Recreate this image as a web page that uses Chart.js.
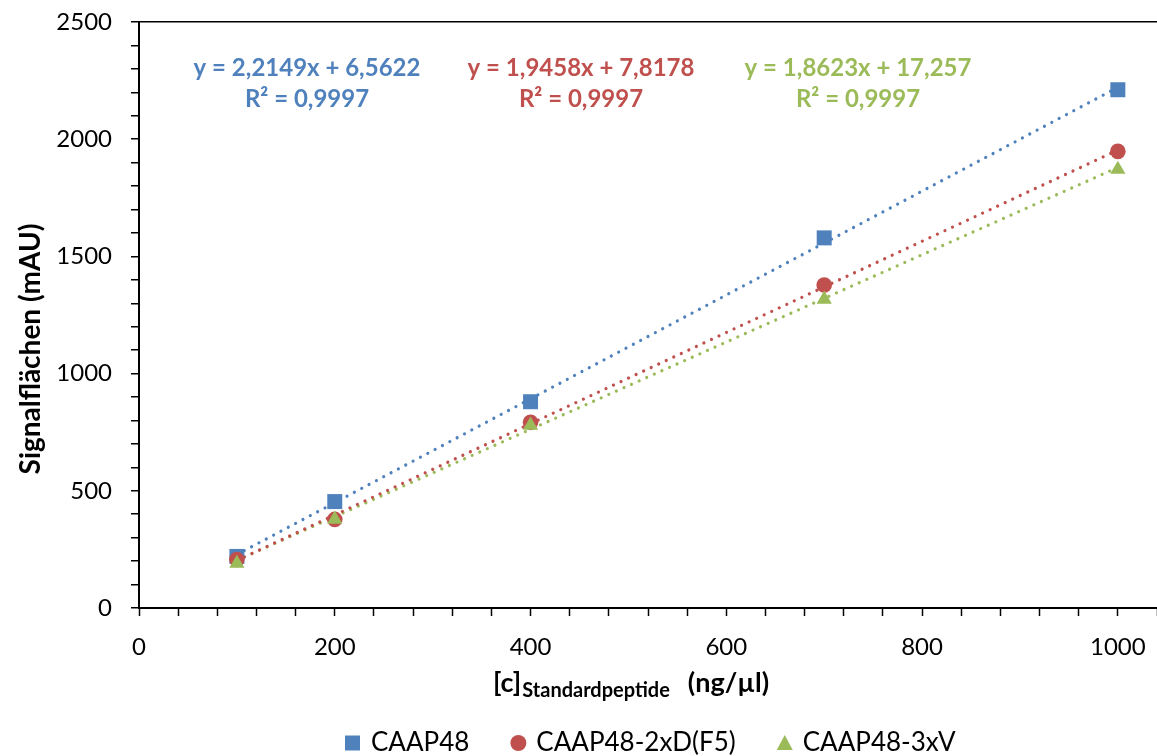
<!DOCTYPE html>
<html lang="de">
<head>
<meta charset="utf-8">
<title>Kalibriergeraden CAAP48</title>
<script src="https://cdn.jsdelivr.net/npm/chart.js@4.4.1/dist/chart.umd.min.js"></script>
<style>
  html, body { margin: 0; padding: 0; background: #fff; overflow: hidden; }
  canvas { display: block; }
</style>
</head>
<body>
<canvas id="kalibrierung" width="1157" height="756"></canvas>
<script>
// Konzentrationen der Standards (ng/µl)
const konzentrationen = [100, 200, 400, 700, 1000];

// gemessene Signalflächen (mAU)
const flaechenCAAP48 = [220, 454, 880, 1579, 2211];
const flaechen2xD = [207, 378, 792, 1378, 1948];
const flaechen3xV = [190, 378, 779, 1317, 1871];

const peptide = ['CAAP48', 'CAAP48-2xD(F5)', 'CAAP48-3xV'];
const farben = ['#4F81BD', '#C0504D', '#9BBB59'];
const symbole = ['rect', 'circle', 'triangle'];
const radien = [10.6, 7.8, 8.8];

// Trendlinien aus Excel (linear)
const steigungen = [2.2149, 1.9458, 1.8623];
const achsenabschnitte = [6.5622, 7.8178, 17.257];
const bestimmtheit = [0.9997, 0.9997, 0.9997];

const xBeschriftet = [0, 200, 400, 600, 800, 1000];
const yBeschriftet = [0, 500, 1000, 1500, 2000, 2500];

const schrift = 'Lato, "Open Sans", sans-serif';
const dezimal = v => String(v).replace('.', ',');

const messreihen = [flaechenCAAP48, flaechen2xD, flaechen3xV];

const punkte = messreihen.map((werte, i) => ({
  label: peptide[i],
  data: konzentrationen.map((c, j) => ({ x: c, y: werte[j] })),
  pointStyle: symbole[i],
  pointRadius: radien[i],
  pointHoverRadius: radien[i],
  pointBorderWidth: 0,
  backgroundColor: farben[i],
  borderColor: farben[i],
  order: 3 - i
}));

const trendlinien = steigungen.map((m, i) => {
  const xs = [konzentrationen[0], konzentrationen[konzentrationen.length - 1]];
  return {
    label: 'Linear (' + peptide[i] + ')',
    data: xs.map(x => ({ x: x, y: m * x + achsenabschnitte[i] })),
    showLine: true,
    pointRadius: 0,
    borderColor: farben[i],
    borderWidth: 3.2,
    borderDash: [0.01, 8.3],
    borderCapStyle: 'round',
    order: 10 + i
  };
});

// Achsentitel, Gleichungen und Legende
const beschriftung = {
  id: 'beschriftung',
  afterDraw(chart) {
    const ctx = chart.ctx;
    ctx.save();

    ctx.textAlign = 'center';
    ctx.textBaseline = 'alphabetic';
    ctx.font = 'bold 24px ' + schrift;
    const gleichungX = [307, 581, 858];
    steigungen.forEach((m, i) => {
      ctx.fillStyle = farben[i];
      ctx.fillText('y = ' + dezimal(m) + 'x + ' + dezimal(achsenabschnitte[i]), gleichungX[i], 76);
      ctx.fillText('R² = ' + dezimal(bestimmtheit[i]), gleichungX[i], 107);
    });

    // y-Achsentitel
    ctx.fillStyle = '#000';
    ctx.save();
    ctx.translate(31, 349);
    ctx.rotate(-Math.PI / 2);
    ctx.textBaseline = 'middle';
    ctx.font = 'bold 28px ' + schrift;
    ctx.fillText('Signalflächen (mAU)', 0, 0);
    ctx.restore();

    // x-Achsentitel mit tiefgestelltem Index
    ctx.textAlign = 'left';
    let x = 493;
    ctx.font = 'bold 27px ' + schrift;
    ctx.fillText('[c]', x, 692);
    x += ctx.measureText('[c]').width + 1;
    ctx.font = 'bold 20px ' + schrift;
    ctx.fillText('Standardpeptide', x, 697);
    x += ctx.measureText('Standardpeptide').width + 18;
    ctx.font = 'bold 27px ' + schrift;
    ctx.fillText('(ng/µl)', x, 692);

    // Legende
    ctx.font = '26px ' + schrift;
    ctx.textBaseline = 'middle';
    let lx = 345;
    const ly = 743;
    peptide.forEach((name, i) => {
      ctx.fillStyle = farben[i];
      ctx.beginPath();
      if (symbole[i] === 'rect') {
        ctx.rect(lx, ly - 7.5, 15, 15);
      } else if (symbole[i] === 'circle') {
        ctx.arc(lx + 8, ly, 8, 0, Math.PI * 2);
      } else {
        ctx.moveTo(lx + 8, ly - 8);
        ctx.lineTo(lx + 16, ly + 7);
        ctx.lineTo(lx, ly + 7);
        ctx.closePath();
      }
      ctx.fill();
      ctx.fillStyle = '#000';
      ctx.fillText(name, lx + 26, ly);
      lx += 26 + ctx.measureText(name).width + 41;
    });

    ctx.restore();
  }
};

new Chart(document.getElementById('kalibrierung'), {
  type: 'scatter',
  data: { datasets: punkte.concat(trendlinien) },
  options: {
    responsive: false,
    animation: false,
    layout: {
      autoPadding: false,
      padding: { top: 22, right: 0, bottom: 0, left: 0 }
    },
    plugins: {
      legend: { display: false },
      tooltip: { enabled: false }
    },
    scales: {
      x: {
        type: 'linear',
        min: 0,
        max: 1040,
        afterFit: s => {
          s.height = 148;
          s.paddingLeft = 0;
          s.paddingRight = 0;
        },
        afterBuildTicks: s => {
          s.ticks = [];
          for (let v = 0; v <= 1040; v += 40) s.ticks.push({ value: v });
        },
        border: { color: '#000', width: 2 },
        grid: {
          drawOnChartArea: false,
          drawTicks: true,
          tickLength: 8,
          tickWidth: 1.5,
          tickColor: '#000'
        },
        ticks: {
          autoSkip: false,
          maxRotation: 0,
          padding: 17,
          color: '#000',
          font: { family: schrift, size: 24 },
          callback: v => xBeschriftet.includes(v) ? String(v) : ''
        }
      },
      y: {
        type: 'linear',
        min: 0,
        max: 2500,
        afterFit: s => {
          s.width = 139;
          s.paddingTop = 0;
          s.paddingBottom = 0;
        },
        afterBuildTicks: s => {
          s.ticks = [];
          for (let v = 0; v <= 2500; v += 100) s.ticks.push({ value: v });
        },
        border: { color: '#000', width: 2 },
        grid: {
          drawOnChartArea: true,
          color: c => c.tick && c.tick.value === 2500 ? '#000' : 'rgba(0,0,0,0)',
          lineWidth: 1.5,
          drawTicks: true,
          tickLength: 8,
          tickWidth: 1.5,
          tickColor: '#000'
        },
        ticks: {
          autoSkip: false,
          padding: 19,
          color: '#000',
          font: { family: schrift, size: 24 },
          callback: v => yBeschriftet.includes(v) ? String(v) : ''
        }
      }
    }
  },
  plugins: [beschriftung]
});
</script>
</body>
</html>
